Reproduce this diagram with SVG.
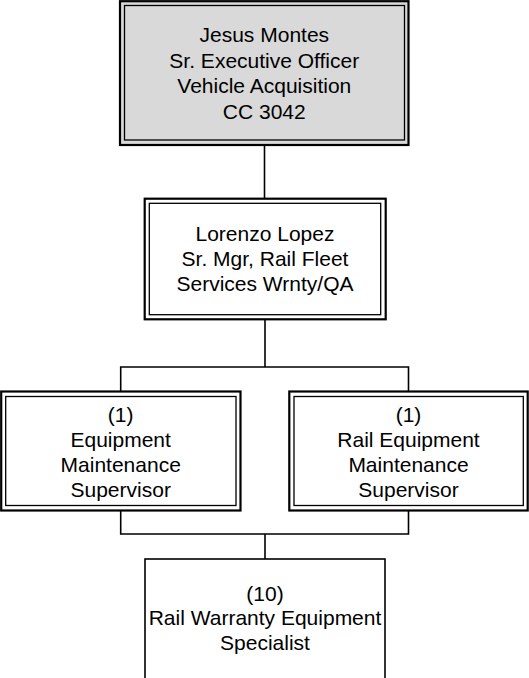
<svg xmlns="http://www.w3.org/2000/svg" width="529" height="678" viewBox="0 0 529 678">
<style>
.outer{fill:#ffffff;stroke:#000;stroke-width:2.2}
.inner{fill:none;stroke:#000;stroke-width:1.3}
.gray{fill:#d9d9d9}
.single{fill:#ffffff;stroke:#000;stroke-width:1.6}
.conn{fill:none;stroke:#000;stroke-width:1.6}
text{font-family:"Liberation Sans",Arial,sans-serif;font-size:21px;fill:#000;text-anchor:middle}
</style>
<rect width="529" height="678" fill="#ffffff"/>
<g id="connectors">
<line class="conn" x1="264.5" y1="145" x2="264.5" y2="199"/>
<line class="conn" x1="265" y1="319" x2="265" y2="367"/>
<polyline class="conn" points="120.7,391.5 120.7,367 408.5,367 408.5,391.5"/>
<polyline class="conn" points="120.7,510.5 120.7,534 408.5,534 408.5,510.5"/>
<line class="conn" x1="265" y1="534" x2="265" y2="559"/>
</g>
<g id="node-jesus-montes">
<rect class="outer gray" x="120" y="1.2" width="288.5" height="143.8"/>
<rect class="inner" x="124.5" y="5.5" width="280" height="134.5"/>
<text x="264.3" y="42">Jesus Montes</text>
<text x="264.3" y="67.5">Sr. Executive Officer</text>
<text x="264.3" y="93">Vehicle Acquisition</text>
<text x="264.3" y="118.5">CC 3042</text>
</g>
<g id="node-lorenzo-lopez">
<rect class="outer" x="144.7" y="198.7" width="241" height="120.6"/>
<rect class="inner" x="149.3" y="203.3" width="231.4" height="111.4"/>
<text x="265" y="241">Lorenzo Lopez</text>
<text x="265" y="266">Sr. Mgr, Rail Fleet</text>
<text x="265" y="291">Services Wrnty/QA</text>
</g>
<g id="node-equipment-maintenance-supervisor">
<rect class="outer" x="1.2" y="391.5" width="239.3" height="119"/>
<rect class="inner" x="5.7" y="396.5" width="230.3" height="109"/>
<text x="120.7" y="421.5">(1)</text>
<text x="120.7" y="446.5">Equipment</text>
<text x="120.7" y="471.5">Maintenance</text>
<text x="120.7" y="496.5">Supervisor</text>
</g>
<g id="node-rail-equipment-maintenance-supervisor">
<rect class="outer" x="289.3" y="391.5" width="238.4" height="119"/>
<rect class="inner" x="294" y="396.5" width="229.3" height="109"/>
<text x="408.5" y="421.5">(1)</text>
<text x="408.5" y="446.5">Rail Equipment</text>
<text x="408.5" y="471.5">Maintenance</text>
<text x="408.5" y="496.5">Supervisor</text>
</g>
<g id="node-rail-warranty-equipment-specialist">
<rect class="single" x="145" y="559" width="240" height="130"/>
<text x="265" y="601">(10)</text>
<text x="265" y="624.5">Rail Warranty Equipment</text>
<text x="265" y="649.5">Specialist</text>
</g>
</svg>
